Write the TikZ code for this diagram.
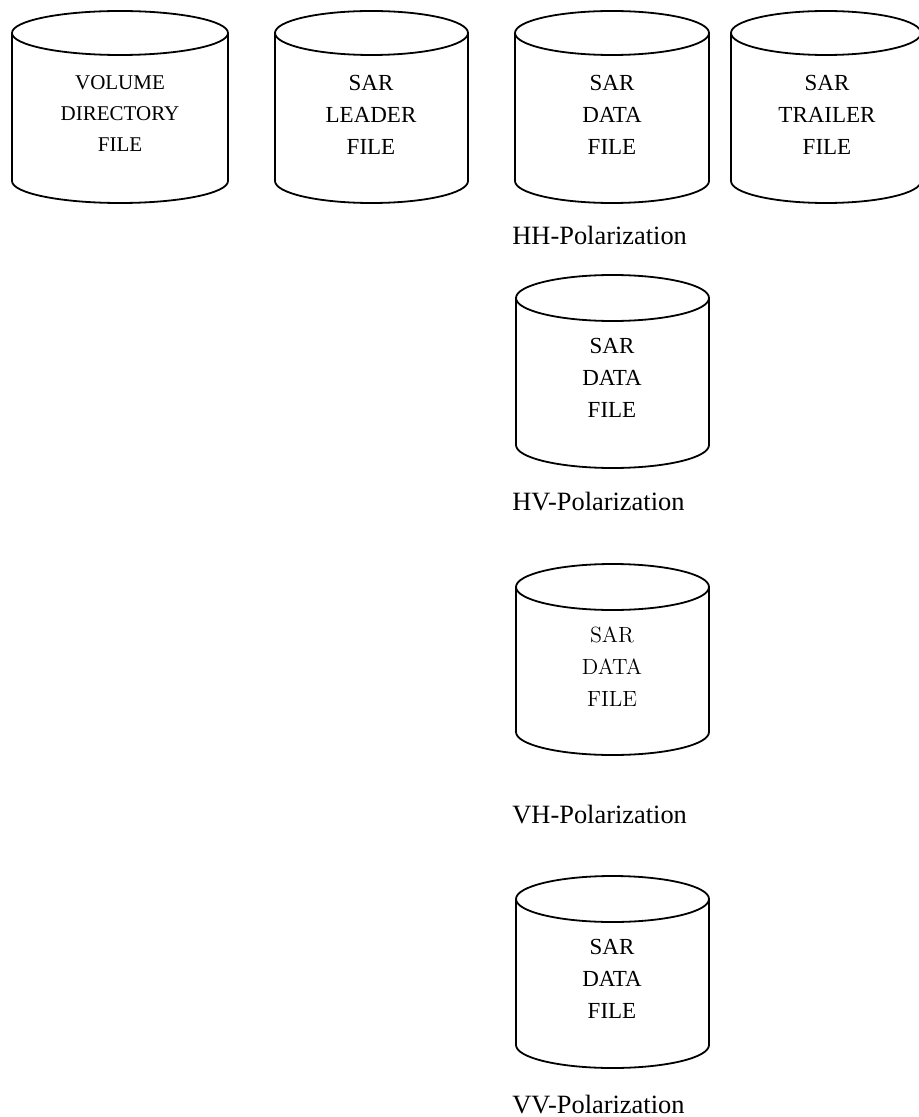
\documentclass[tikz,border=0pt]{standalone}
\usepackage{fontspec}
\setmainfont{Liberation Serif}
\usepackage{tikz}

\tikzset{
  drumtext/.style={align=center, inner sep=0pt, font=\fontsize{11.5}{16}\selectfont},
  pollabel/.style={anchor=base west, inner sep=0pt, font=\fontsize{13.2}{16}\selectfont}
}
% file drum: left, right, top, bottom, y radius
\newcommand{\filedrum}[5]{%
  \draw[line width=0.9pt] ({(#1+#2)/2},-#3) ellipse [x radius={(#2-#1)/2}, y radius=#5];
  \draw[line width=0.9pt] (#1,-#3) -- (#1,-#4) arc [start angle=180, end angle=360, x radius={(#2-#1)/2}, y radius=#5] -- (#2,-#3);
}

\begin{document}
\begin{tikzpicture}[x=0.5pt,y=0.5pt]
\useasboundingbox (0,0) rectangle (918,-1117);
% top row
\filedrum{12}{228}{33}{181}{22}
\filedrum{275}{468}{33}{181}{22}
\filedrum{515}{709}{33}{181}{22}
\filedrum{731}{921}{33}{181}{22}
\node[drumtext, font=\fontsize{10.5}{15.5}\selectfont] (voldir) at (120,-114) {VOLUME\\DIRECTORY\\FILE};
\node[drumtext] (leader) at (371,-115) {SAR\\LEADER\\FILE};
\node[drumtext] (datahh) at (612,-115) {SAR\\DATA\\FILE};
\node[drumtext] (trailer) at (827,-115) {SAR\\TRAILER\\FILE};
\node[pollabel] (hh) at (512,-245) {HH-Polarization};
% polarization column
\filedrum{516}{709}{298}{445}{23}
\node[drumtext] (datahv) at (612,-378) {SAR\\DATA\\FILE};
\node[pollabel] (hv) at (512,-510) {HV-Polarization};
\filedrum{516}{709}{587}{732}{23}
\node[drumtext, font=\fontfamily{lmr}\fontsize{11}{16}\selectfont] (datavh) at (612,-667) {SAR\\DATA\\FILE};
\node[pollabel] (vh) at (512,-823) {VH-Polarization};
\filedrum{516}{709}{899}{1045}{23}
\node[drumtext] (datavv) at (612,-979) {SAR\\DATA\\FILE};
\node[pollabel] (vv) at (512,-1113) {VV-Polarization};
\end{tikzpicture}
\end{document}
